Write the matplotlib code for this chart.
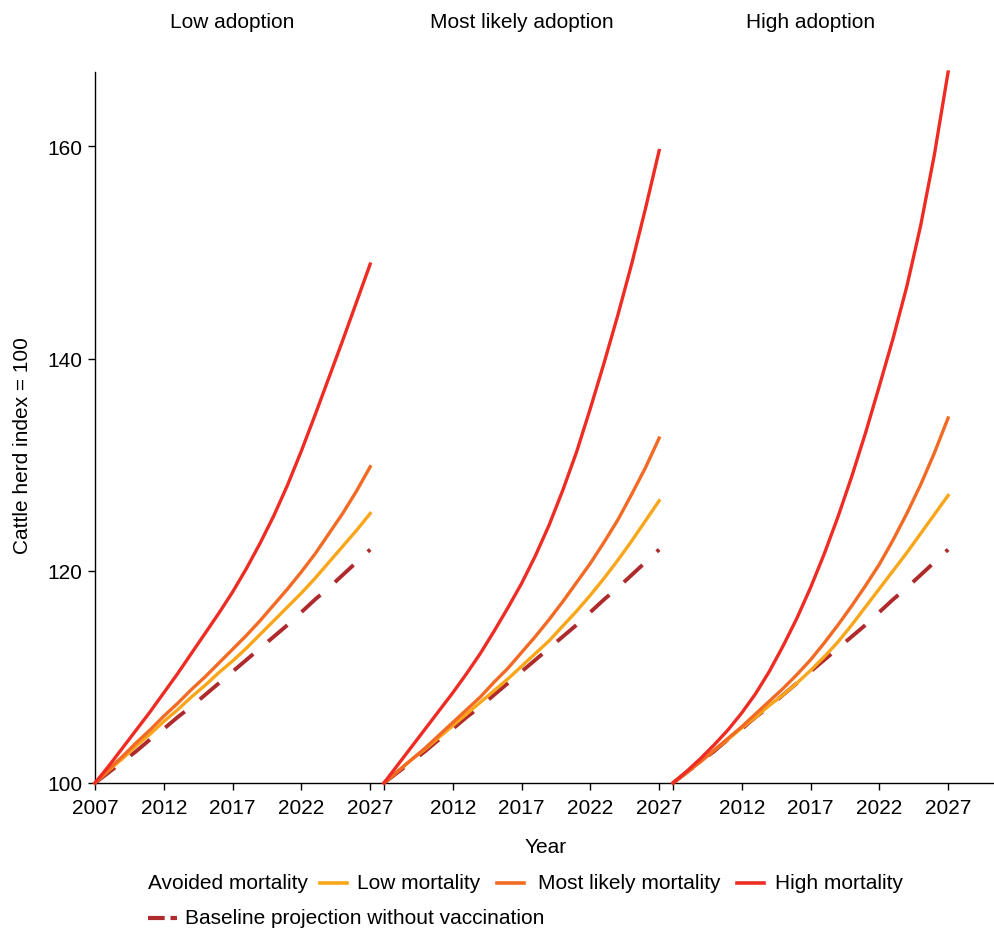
import matplotlib
matplotlib.use("Agg")
import matplotlib.pyplot as plt
import matplotlib.transforms as mtransforms
from matplotlib.lines import Line2D
import numpy as np

plt.rcParams['font.family'] = ['Liberation Sans', 'DejaVu Sans']

# ---------------- data ----------------
years = list(range(2007, 2028))
panels = ["Low adoption", "Most likely adoption", "High adoption"]
series_names = ["Low mortality", "Most likely mortality", "High mortality"]
legend_title = "Avoided mortality"
baseline_name = "Baseline projection without vaccination"

baseline = [100.0, 101.0, 102.0, 103.0, 104.1, 105.1, 106.2, 107.2, 108.3, 109.4, 110.5,
            111.6, 112.7, 113.8, 114.9, 116.1, 117.3, 118.4, 119.6, 120.8, 122.0]

# Low adoption
low_ad_low = [100.0, 101.2, 102.3, 103.5, 104.6, 105.8, 106.9, 108.1, 109.2, 110.4, 111.5,
              112.7, 114.0, 115.3, 116.6, 117.9, 119.3, 120.8, 122.3, 123.8, 125.4]
low_ad_mid = [100.0, 101.3, 102.5, 103.8, 105.0, 106.3, 107.5, 108.8, 110.0, 111.3, 112.6,
              113.9, 115.3, 116.8, 118.3, 119.9, 121.6, 123.5, 125.4, 127.5, 129.8]
low_ad_high = [100.0, 101.6, 103.3, 105.0, 106.7, 108.5, 110.3, 112.2, 114.1, 116.0, 118.0,
               120.2, 122.6, 125.2, 128.1, 131.3, 134.7, 138.2, 141.7, 145.3, 148.9]

# Most likely adoption
mid_ad_low = [100.0, 101.1, 102.2, 103.2, 104.3, 105.4, 106.5, 107.6, 108.7, 109.8, 111.0,
              112.2, 113.4, 114.8, 116.2, 117.7, 119.3, 121.0, 122.8, 124.7, 126.6]
mid_ad_mid = [100.0, 101.1, 102.2, 103.3, 104.5, 105.7, 106.9, 108.1, 109.5, 110.8, 112.3,
              113.8, 115.4, 117.1, 118.9, 120.7, 122.7, 124.8, 127.2, 129.7, 132.5]
mid_ad_high = [100.0, 101.7, 103.4, 105.1, 106.8, 108.5, 110.3, 112.2, 114.3, 116.5, 118.8,
               121.4, 124.3, 127.6, 131.2, 135.3, 139.6, 144.1, 148.9, 154.1, 159.6]

# High adoption
high_ad_low = [100.0, 101.0, 102.0, 103.1, 104.1, 105.2, 106.2, 107.3, 108.3, 109.4, 110.6,
               111.9, 113.3, 114.9, 116.6, 118.3, 120.0, 121.7, 123.5, 125.3, 127.1]
high_ad_mid = [100.0, 101.0, 102.0, 103.1, 104.2, 105.3, 106.5, 107.7, 108.9, 110.2, 111.6,
               113.2, 114.9, 116.7, 118.6, 120.6, 122.9, 125.4, 128.1, 131.1, 134.4]
high_ad_high = [100.0, 101.1, 102.3, 103.6, 105.0, 106.6, 108.4, 110.5, 112.9, 115.5, 118.4,
                121.6, 125.1, 128.9, 133.0, 137.4, 141.9, 146.8, 152.5, 159.2, 167.0]

panel_data = [
    [low_ad_low, low_ad_mid, low_ad_high],
    [mid_ad_low, mid_ad_mid, mid_ad_high],
    [high_ad_low, high_ad_mid, high_ad_high],
]

tick_years = [2007, 2012, 2017, 2022, 2027]
y_ticks = [100, 120, 140, 160]

# ---------------- style ----------------
colors = ["#F9A61B", "#F26A23", "#EE2C24"]
base_color = "#AE2A2C"
FS = 15
W, H = 994, 929
panel_span = 21.0  # years per panel slot on the shared axis

fig = plt.figure(figsize=(W / 100, H / 100), dpi=100)
ax = fig.add_axes([95 / W, 1 - 784 / H, (993 - 95) / W, (784 - 73) / H])

yr = np.array(years, dtype=float)
for p, series in enumerate(panel_data):
    off = p * panel_span
    xs = off + (yr - years[0])
    ax.plot(xs, baseline, color=base_color, lw=2.8, dashes=(6.5, 5.0),
            dash_capstyle='butt', zorder=2, clip_on=False)
    for s, c in zip(series, colors):
        ax.plot(xs, s, color=c, lw=2.4, zorder=3, clip_on=False)

# ticks
xt, xl = [], []
for p in range(len(panels)):
    off = p * panel_span
    for ty in tick_years:
        xt.append(off + ty - years[0])
        xl.append("" if (p > 0 and ty == years[0]) else str(ty))
ax.set_xticks(xt)
ax.set_xticklabels(xl)
ax.set_yticks(y_ticks)
ax.set_xlim(0, (993 - 95) / 13.76)
ax.set_ylim(100, 167)

for sp in ["top", "right"]:
    ax.spines[sp].set_visible(False)
for sp in ["left", "bottom"]:
    ax.spines[sp].set_linewidth(1.0)
ax.tick_params(axis='both', labelsize=FS, length=5, width=1.0, direction='out')
ax.tick_params(axis='x', pad=6)
ax.tick_params(axis='y', pad=4)

# panel titles
title_tr = mtransforms.blended_transform_factory(ax.transData, fig.transFigure)
for p, name in enumerate(panels):
    ax.text(p * panel_span + 10, 1 - 22 / H, name, transform=title_tr,
            ha='center', va='center', fontsize=FS)

fig.text(23 / W, 1 - 446 / H, "Cattle herd index = 100", rotation=90,
         ha='center', va='center', fontsize=FS)
fig.text(546 / W, 1 - 848 / H, "Year", ha='center', va='center', fontsize=FS)


# legend (manual layout)
def fx(px):
    return px / W


def fy(py):
    return 1 - py / H


ly = 884
fig.text(fx(148), fy(ly), legend_title, ha='left', va='center', fontsize=FS)
leg_pos = [(320, 347, 357), (497, 524, 538), (737, 764, 775)]
for (x0, x1, tx), c, name in zip(leg_pos, colors, series_names):
    fig.add_artist(Line2D([fx(x0), fx(x1)], [fy(ly), fy(ly)], transform=fig.transFigure,
                          color=c, lw=2.6))
    fig.text(fx(tx), fy(ly), name, ha='left', va='center', fontsize=FS)

ly2 = 919
fig.add_artist(Line2D([fx(148), fx(177)], [fy(ly2), fy(ly2)], transform=fig.transFigure,
                      color=base_color, lw=3.0, dashes=(4.0, 1.4), dash_capstyle='butt'))
fig.text(fx(185), fy(ly2), baseline_name, ha='left', va='center', fontsize=FS)

fig.savefig("out.png", dpi=100)
